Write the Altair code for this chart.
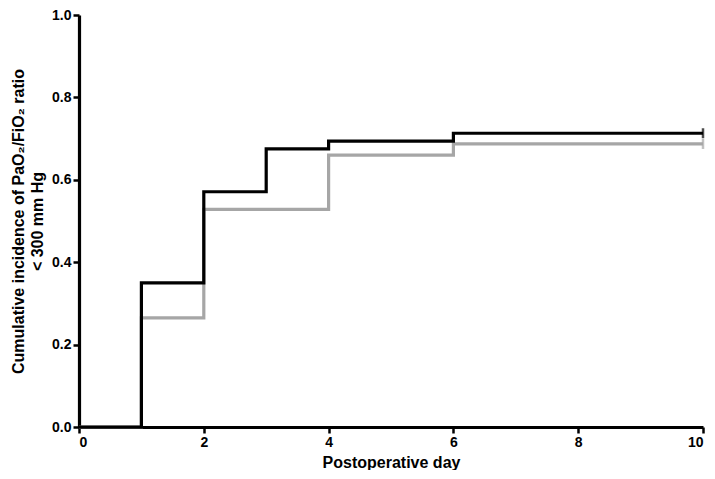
import altair as alt
import pandas as pd

days_black = [0, 1, 2, 3, 4, 6, 10]
vals_black = [0.0, 0.35, 0.571, 0.675, 0.694, 0.713, 0.713]
days_gray = [0, 1, 2, 4, 6, 10]
vals_gray = [0.0, 0.265, 0.528, 0.66, 0.687, 0.687]

df = pd.concat([
    pd.DataFrame({"day": days_gray, "val": vals_gray, "group": "B", "order": 0}),
    pd.DataFrame({"day": days_black, "val": vals_black, "group": "A", "order": 1}),
])
ends = pd.DataFrame({"day": [days_gray[-1], days_black[-1]],
                     "val": [vals_gray[-1], vals_black[-1]],
                     "group": ["B", "A"]})

FONT = "Liberation Sans"
color = alt.Color("group:N", scale=alt.Scale(domain=["A", "B"], range=["#000000", "#a6a6a6"]), legend=None)

x = alt.X("day:Q", scale=alt.Scale(domain=[0, 10], nice=False),
          axis=alt.Axis(values=[0, 2, 4, 6, 8, 10], title="Postoperative day", format="d",
                        titleFontSize=16))
y = alt.Y("val:Q", scale=alt.Scale(domain=[0, 1], nice=False),
          axis=alt.Axis(values=[0, 0.2, 0.4, 0.6, 0.8, 1.0], format=".1f",
                        title=["Cumulative incidence of PaO₂/FiO₂ ratio", "< 300 mm Hg"]))

lines = alt.Chart(df).mark_line(interpolate="step-after", strokeWidth=3.2).encode(
    x=x, y=y, color=color, detail="group:N", order="order:Q"
)
ticks = alt.Chart(ends).mark_tick(orient="vertical", size=10, thickness=2.5).encode(
    x="day:Q", y="val:Q", color=color
)

chart = (lines + ticks).properties(
    width=624, height=412,
    autosize=alt.AutoSizeParams(type="none"),
    padding={"left": 71, "top": 7, "right": 4, "bottom": 43},
).configure_view(stroke=None).configure_axis(
    grid=False, domainColor="black", domainWidth=3.2, tickColor="black", tickWidth=2.5,
    tickSize=6, labelFont=FONT, labelFontWeight="bold", labelFontSize=14, labelColor="black",
    titleFont=FONT, titleFontWeight="bold", titleFontSize=16, titleColor="black",
    labelPadding=2,
).configure_axisY(titlePadding=6, titleLineHeight=19).configure_axisX(titlePadding=5)

chart.save("out.html", embed_options={"renderer": "svg", "actions": False})
